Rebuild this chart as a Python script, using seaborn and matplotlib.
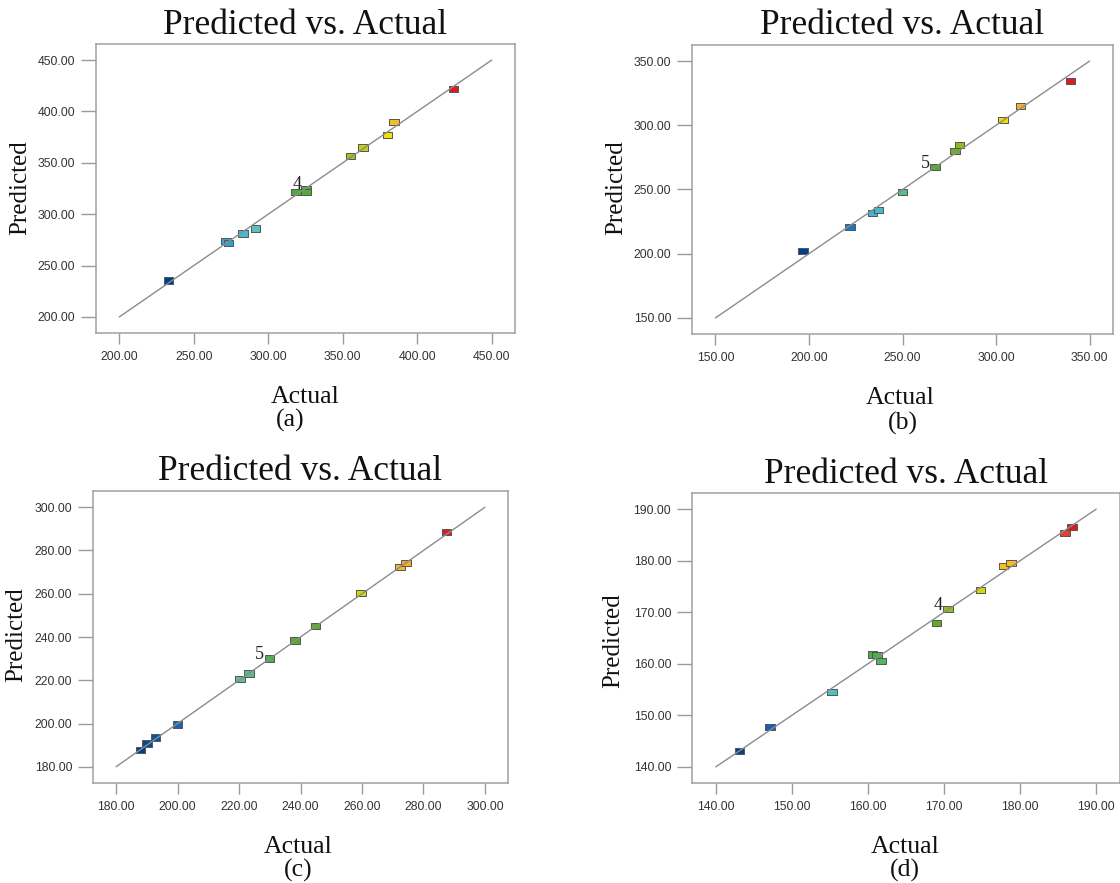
import matplotlib
matplotlib.use("Agg")
import matplotlib.pyplot as plt
from matplotlib.colors import LinearSegmentedColormap
import numpy as np
import pandas as pd
import seaborn as sns

# ---- data: actual vs. predicted responses for four models ----
a_actual = [232.9, 271.7, 273.4, 283.1, 291.4, 318.5, 325.2, 325.2, 355.4, 363.7, 380.0, 384.5, 424.5]
a_pred = [235.5, 273.9, 272.3, 281.3, 286.2, 321.4, 324.0, 321.4, 356.3, 364.8, 377.4, 389.8, 421.7]
a_ticks = [200, 250, 300, 350, 400, 450]
a_note = (5, "4")

b_actual = [196.9, 222.0, 233.9, 237.3, 250.1, 267.4, 278.0, 280.6, 303.6, 313.0, 339.7]
b_pred = [201.9, 221.0, 231.5, 233.8, 248.1, 267.3, 280.0, 284.6, 304.1, 315.2, 334.4]
b_ticks = [150, 200, 250, 300, 350]
b_note = (5, "5")

c_actual = [187.9, 190.1, 192.9, 199.9, 220.3, 223.2, 229.9, 238.2, 244.9, 259.7, 272.4, 274.3, 287.5]
c_pred = [187.6, 190.8, 193.6, 199.5, 220.6, 223.1, 230.0, 238.4, 245.2, 260.5, 272.4, 274.2, 288.5]
c_ticks = [180, 200, 220, 240, 260, 280, 300]
c_note = (6, "5")

d_actual = [143.1, 147.1, 155.3, 160.6, 161.2, 161.7, 169.0, 170.5, 174.8, 177.8, 178.8, 185.9, 186.8]
d_pred = [143.1, 147.7, 154.5, 161.8, 161.7, 160.5, 167.9, 170.6, 174.3, 179.0, 179.6, 185.3, 186.6]
d_ticks = [140, 150, 160, 170, 180, 190]
d_note = (7, "4")

panel_tags = ["(a)", "(b)", "(c)", "(d)"]
title_text = "Predicted vs. Actual"
x_label = "Actual"
y_label = "Predicted"

# ---- styling ----
sns.set_theme(style="white")
plt.rcParams["font.family"] = ["Liberation Sans", "DejaVu Sans"]
SERIF = ["Liberation Serif", "DejaVu Serif"]

W, H = 1120, 883
fig = plt.figure(figsize=(W / 100, H / 100), dpi=100)
fig.patch.set_facecolor("white")

value_cmap = LinearSegmentedColormap.from_list(
    "value_scale",
    [(0.00, "#003f8f"), (0.12, "#1565b8"), (0.22, "#3ab4dc"), (0.28, "#5cc4b8"),
     (0.34, "#5cbf90"), (0.44, "#4aae3c"), (0.56, "#58aa26"), (0.66, "#a8c810"),
     (0.76, "#f2e200"), (0.85, "#f8b428"), (0.92, "#f08a30"), (1.00, "#e01a22")],
)

# flat rectangular design-point marker
rect_marker = [(-1.5, -1.0), (1.5, -1.0), (1.5, 1.0), (-1.5, 1.0), (-1.5, -1.0)]


def frame(left, top, right, bottom):
    return [left / W, 1 - bottom / H, (right - left) / W, (bottom - top) / H]


def ftext(x, y, s, **kw):
    fig.text(x / W, 1 - y / H, s, family=SERIF, color="#111111", **kw)


panels = [
    dict(actual=a_actual, pred=a_pred, ticks=a_ticks, note=a_note,
         box=(96, 44, 515, 333), title=(305, 34), xl=(305, 403), tag=(290, 427),
         yl=(20, 188), offset=(1, 8)),
    dict(actual=b_actual, pred=b_pred, ticks=b_ticks, note=b_note,
         box=(692, 45, 1113, 334), title=(902, 34), xl=(900, 404), tag=(903, 430),
         yl=(616, 188), offset=(-10, 4)),
    dict(actual=c_actual, pred=c_pred, ticks=c_ticks, note=c_note,
         box=(93, 491, 508, 783), title=(300, 480), xl=(298, 853), tag=(298, 877),
         yl=(16, 635), offset=(-10, 4)),
    dict(actual=d_actual, pred=d_pred, ticks=d_ticks, note=d_note,
         box=(692, 493, 1120, 783), title=(906, 483), xl=(905, 853), tag=(905, 877),
         yl=(613, 641), offset=(-10, 4)),
]

for p, tag in zip(panels, panel_tags):
    ax = fig.add_axes(frame(*p["box"]))
    df = pd.DataFrame({"Actual": p["actual"], "Predicted": p["pred"]})
    lo, hi = p["ticks"][0], p["ticks"][-1]
    pad = (hi - lo) * 0.0625

    sns.scatterplot(data=df, x="Actual", y="Predicted", hue="Predicted",
                    palette=value_cmap, hue_norm=(df["Predicted"].min(), df["Predicted"].max()),
                    marker=rect_marker, s=46, edgecolor="#555555", linewidth=0.7,
                    legend=False, ax=ax, zorder=3)
    sns.lineplot(x=[lo, hi], y=[lo, hi], color="#8c8c8c", linewidth=1.0, ax=ax, zorder=4)

    idx, txt = p["note"]
    ax.annotate(txt, xy=(p["actual"][idx], p["pred"][idx]), xytext=p["offset"],
                textcoords="offset pixels", ha="center", va="center",
                fontsize=13, family=SERIF, color="#222222", zorder=5)

    ax.set_xlim(lo - pad, hi + pad)
    ax.set_ylim(lo - pad, hi + pad)
    ax.set_xticks(p["ticks"])
    ax.set_yticks(p["ticks"])
    ax.set_xticklabels([f"{t:.2f}" for t in p["ticks"]])
    ax.set_yticklabels([f"{t:.2f}" for t in p["ticks"]])
    ax.set_xlabel("")
    ax.set_ylabel("")
    ax.grid(False)
    ax.set_facecolor("white")
    for sp in ax.spines.values():
        sp.set_visible(True)
        sp.set_color("#a0a0a0")
        sp.set_linewidth(1.1)
    ax.tick_params(axis="x", direction="out", length=8, width=1, color="#9a9a9a",
                   pad=5, labelsize=8.8, labelcolor="#333333", bottom=True)
    ax.tick_params(axis="y", direction="out", length=11, width=1, color="#9a9a9a",
                   pad=4, labelsize=8.8, labelcolor="#333333", left=True)

    ftext(p["title"][0], p["title"][1], title_text, fontsize=25.5, ha="center", va="baseline")
    ftext(p["xl"][0], p["xl"][1], x_label, fontsize=18.5, ha="center", va="baseline")
    ftext(p["tag"][0], p["tag"][1], tag, fontsize=18.5, ha="center", va="baseline")
    ftext(p["yl"][0], p["yl"][1], y_label, fontsize=18, ha="center", va="center", rotation=90)

fig.savefig("out.png", dpi=100, facecolor="white")
